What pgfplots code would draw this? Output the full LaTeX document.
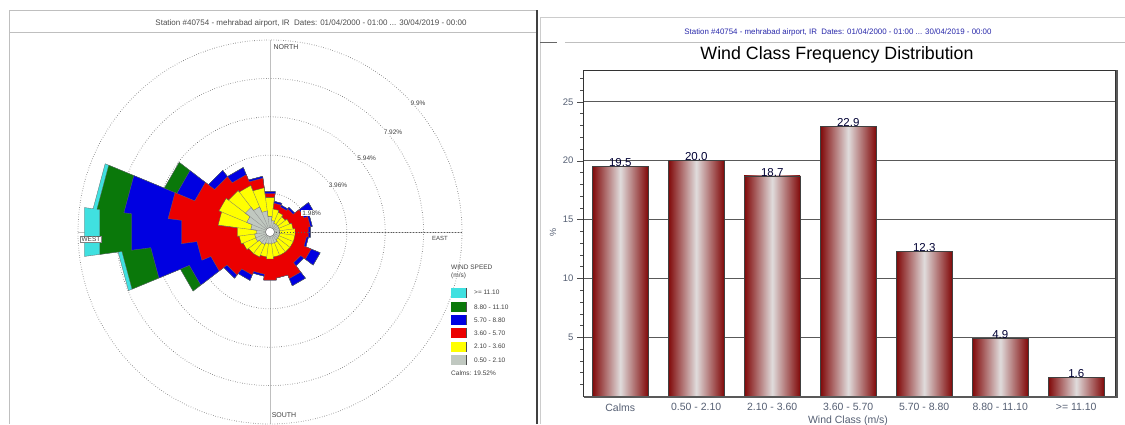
\documentclass[border=0pt]{standalone}
\usepackage{fontspec}
\setmainfont{Liberation Sans}
\usepackage{pgfplots}
\pgfplotsset{compat=1.18}
\usepackage{pgfplotstable}
\usepgfplotslibrary{polar}

\definecolor{wcyan}{RGB}{64,224,224}
\definecolor{wgreen}{RGB}{10,120,10}
\definecolor{wblue}{RGB}{0,0,225}
\definecolor{wred}{RGB}{235,0,0}
\definecolor{wyellow}{RGB}{255,255,0}
\definecolor{wgray}{RGB}{192,200,192}
\definecolor{bardark}{RGB}{128,8,8}
\definecolor{barlight}{RGB}{224,220,220}
\definecolor{subblue}{RGB}{40,40,170}
\definecolor{ticktxt}{RGB}{85,95,115}

\newcommand\fs[1]{\fontsize{#1}{#1}\selectfont}

% wind rose: angle (deg, counter-clockwise from east), cumulative % per speed class
\pgfplotstableread{
a     gry  yel  red  blu  grn  cya
-7.5  0.5  1.3  2.0  2.1  2.1  2.1
7.5   0.5  1.3  2.0  2.1  2.1  2.1
7.5   0.5  1.2  2.1  2.2  2.2  2.2
22.5  0.5  1.2  2.1  2.2  2.2  2.2
22.5  0.5  1.1  1.9  2.5  2.5  2.5
37.5  0.5  1.1  1.9  2.5  2.5  2.5
37.5  0.5  1.0  1.5  1.6  1.6  1.6
52.5  0.5  1.0  1.5  1.6  1.6  1.6
52.5  0.5  1.1  1.4  1.5  1.5  1.5
67.5  0.5  1.1  1.4  1.5  1.5  1.5
67.5  0.6  1.2  1.5  1.6  1.6  1.6
82.5  0.6  1.2  1.5  1.6  1.6  1.6
82.5  0.8  1.8  2.0  2.1  2.1  2.1
97.5  0.8  1.8  2.0  2.1  2.1  2.1
97.5  1.1  2.3  2.8  2.9  2.9  2.9
112.5 1.1  2.3  2.8  2.9  2.9  2.9
112.5 1.4  2.6  3.2  3.6  3.6  3.6
127.5 1.4  2.6  3.2  3.6  3.6  3.6
127.5 1.6  2.7  3.6  4.0  4.0  4.0
142.5 1.6  2.7  3.6  4.0  4.0  4.0
142.5 1.3  2.85 4.2  5.2  5.9  5.9
157.5 1.3  2.85 4.2  5.2  5.9  5.9
157.5 1.0  2.7  5.3  7.6  9.0  9.2
172.5 1.0  2.7  5.3  7.6  9.0  9.2
172.5 0.7  1.7  4.6  7.2  8.85 9.65
187.5 0.7  1.7  4.6  7.2  8.85 9.65
187.5 0.8  1.6  3.8  6.2  7.7  7.9
202.5 0.8  1.6  3.8  6.2  7.7  7.9
202.5 0.8  1.5  3.3  4.5  5.0  5.0
217.5 0.8  1.5  3.3  4.5  5.0  5.0
217.5 0.7  1.4  2.8  3.0  3.0  3.0
232.5 0.7  1.4  2.8  3.0  3.0  3.0
232.5 0.7  1.4  2.4  2.7  2.7  2.7
247.5 0.7  1.4  2.4  2.7  2.7  2.7
247.5 0.6  1.3  2.2  2.3  2.3  2.3
262.5 0.6  1.3  2.2  2.3  2.3  2.3
262.5 0.6  1.4  2.5  2.5  2.5  2.5
277.5 0.6  1.4  2.5  2.5  2.5  2.5
277.5 0.6  1.3  2.4  2.4  2.4  2.4
292.5 0.6  1.3  2.4  2.4  2.4  2.4
292.5 0.6  1.3  2.6  3.0  3.0  3.0
307.5 0.6  1.3  2.6  3.0  3.0  3.0
307.5 0.5  1.3  2.0  2.2  2.2  2.2
322.5 0.5  1.3  2.0  2.2  2.2  2.2
322.5 0.5  1.3  2.3  2.8  2.8  2.8
337.5 0.5  1.3  2.3  2.8  2.8  2.8
337.5 0.5  1.3  1.9  2.0  2.0  2.0
352.5 0.5  1.3  1.9  2.0  2.0  2.0
352.5 0.5  1.3  2.0  2.1  2.1  2.1
}\rose

\begin{document}
\begin{tikzpicture}[x=1pt,y=1pt]
\useasboundingbox (0,0) rectangle (1125,424);

% ---- left panel frame
\draw[black!25] (9,0) -- (9,414) -- (537,414);
\draw[black!25] (9,392) -- (537,392);
\draw[black!75, line width=2pt] (537,0) -- (537,414);
\node[font=\fs{8}, text=black!70] at (311,401)
  {Station \#40754 - mehrabad airport, IR \ Dates: 01/04/2000 - 01:00 ... 30/04/2019 - 00:00};

\begin{polaraxis}[
  at={(270pt,192pt)}, anchor=center,
  scale only axis, width=384pt, height=384pt,
  ymin=0, ymax=9.9,
  ytick={1.98,3.96,5.94,7.92,9.9},
  xtick={0,90,180,270},
  xticklabels={,,,}, yticklabels={,,,,},
  major tick length=0pt,
  axis line style={draw=none},
  ymajorgrids, xmajorgrids,
  y grid style={black!65, dotted, line width=0.8pt},
  x grid style={black!25, line width=0.4pt},
]
\addplot[fill=wcyan,   draw=black!60, line width=0.3pt] table[x=a,y=cya] {\rose};
\addplot[fill=wgreen,  draw=black!60, line width=0.3pt] table[x=a,y=grn] {\rose};
\addplot[fill=wblue,   draw=black!60, line width=0.3pt] table[x=a,y=blu] {\rose};
\addplot[fill=wred,    draw=black!60, line width=0.3pt] table[x=a,y=red] {\rose};
\addplot[fill=wyellow, draw=black!70, line width=0.3pt] table[x=a,y=yel] {\rose};
% sector separators inside the two lowest classes
\addplot[polar comb, draw=black!55, line width=0.3pt] table[x=a,y=yel] {\rose};
\addplot[fill=wgray,   draw=black!60, line width=0.3pt] table[x=a,y=gry] {\rose};
\addplot[polar comb, draw=black!45, line width=0.3pt] table[x=a,y=gry] {\rose};
\draw[black!65, dotted, line width=0.8pt] (axis cs:0,0.3) -- (axis cs:0,9.9);
\draw[black!60, fill=white] (axis cs:0,0) circle[radius=4.5pt];
\end{polaraxis}

% ring labels and directions
\begin{scope}[every node/.style={fill=white, inner sep=1pt, font=\fs{6.5}, text=black!75}]
\node at (311.7,211) {1.98\%};
\node at (338,239) {3.96\%};
\node at (366.7,266) {5.94\%};
\node at (393,292) {7.92\%};
\node at (418,321) {9.9\%};
\node[font=\fs{7}] at (286,377) {NORTH};
\node[font=\fs{7}] at (284,9) {SOUTH};
\node[draw=black!50, font=\fs{6.5}] at (91,185) {WEST};
\node[font=\fs{6}] at (440,186) {EAST};
\end{scope}

% legend
\begin{scope}[every node/.style={font=\fs{6.5}, text=black!75, anchor=west, inner sep=0pt}]
\node at (451,157) {WIND SPEED};
\node at (451,148) {(m/s)};
\foreach \c/\yy/\t in {wcyan/131.5/>= 11.10, wgreen/117/8.80 - 11.10, wblue/104/5.70 - 8.80,
                       wred/91/3.60 - 5.70, wyellow/77.5/2.10 - 3.60, wgray/64/0.50 - 2.10}{
  \fill[\c] (451,\yy-5) rectangle (466,\yy+5);
  \draw[black!70, line width=1pt] (466,\yy-5) -- (466,\yy+5);
  \node at (474,\yy) {\t};
}
\node at (451,51) {Calms: 19.52\%};
\end{scope}

% ---- right panel frame
\draw[black!20] (540,0) -- (540,407) -- (1125,407);
\draw[black!25] (565,382) -- (1125,382);
\draw[black!60] (540,382) -- (557,382);
\node[font=\fs{7.9}, text=subblue] at (838,392)
  {Station \#40754 - mehrabad airport, IR \ Dates: 01/04/2000 - 01:00 ... 30/04/2019 - 00:00};
\node[font=\fs{17.8}] at (837,369) {Wind Class Frequency Distribution};

\begin{axis}[
  at={(583pt,28pt)}, anchor=south west,
  scale only axis, width=532pt, height=326pt,
  xmin=-0.49, xmax=6.51, ymin=0, ymax=27.7,
  xtick={0,...,6},
  xticklabels={Calms, 0.50 - 2.10, 2.10 - 3.60, 3.60 - 5.70, 5.70 - 8.80, 8.80 - 11.10, >= 11.10},
  ytick={5,10,15,20,25},
  minor ytick={1,2,...,27},
  tickpos=left,
  ymajorgrids,
  grid style={black!65, line width=0.9pt},
  tick align=outside,
  major tick length=6pt, minor tick length=3pt,
  xtick style={black!85, line width=0.8pt, yshift=4pt},
  ytick style={black!70},
  axis line style={black!80, line width=0.6pt},
  tick label style={text=ticktxt},
  xticklabel style={font=\fs{10.5}, yshift=2pt},
  yticklabel style={font=\fs{9.5}},
  /pgf/number format/assume math mode=true,
  nodes near coords={\pgfmathprintnumber[fixed,precision=1,fixed zerofill]{\pgfplotspointmeta}},
  every node near coord/.append style={font=\fs{11.5}, text=black!80!blue, inner sep=0.5pt, yshift=-1pt},
  windbar/.style={ybar, bar width=56pt, bar shift=0pt, draw=black!75, line width=0.5pt,
    left color=bardark, right color=bardark, middle color=barlight},
]
\addplot[windbar] coordinates {(0,19.5)};
\addplot[windbar] coordinates {(1,20.0)};
\addplot[windbar] coordinates {(2,18.7)};
\addplot[windbar] coordinates {(3,22.9)};
\addplot[windbar] coordinates {(4,12.3)};
\addplot[windbar] coordinates {(5,4.9)};
\addplot[windbar] coordinates {(6,1.6)};
\end{axis}
\draw[black!65, line width=2pt] (1116.5,26.5) -- (1116.5,354);
\draw[black!65, line width=2pt] (584,27) -- (1117,27);
\node[rotate=90, font=\fs{9}, text=ticktxt] at (553,192) {\%};
\node[font=\fs{10.5}, text=ticktxt] at (848,3) {Wind Class (m/s)};
\end{tikzpicture}
\end{document}
